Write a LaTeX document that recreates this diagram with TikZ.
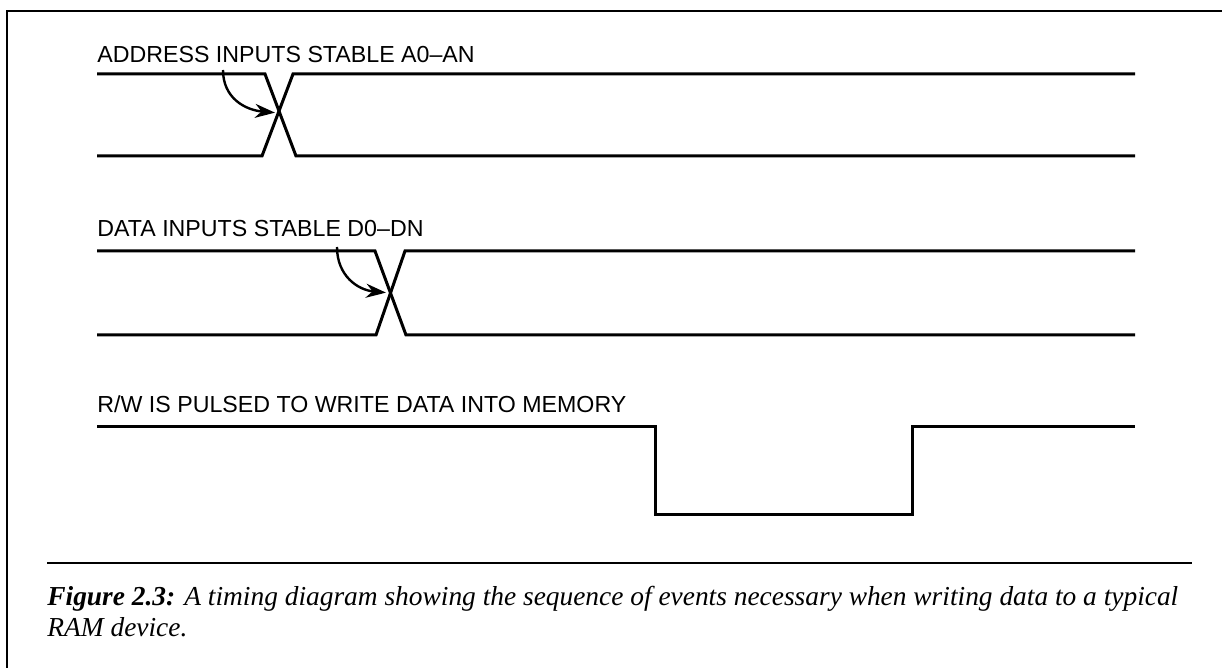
\documentclass[tikz,border=0pt]{standalone}
\usepackage{fontspec}
\setmainfont{Liberation Serif}
\setsansfont{Liberation Sans}
\usetikzlibrary{positioning, arrows.meta}

\tikzset{
  wave/.style={line width=1.5pt, line join=miter},
  siglabel/.style={anchor=base west, inner sep=0pt,
                   font=\sffamily\fontsize{11.6}{13}\selectfont},
  hint/.style={line width=1.2pt, -{Stealth[length=10pt, width=7pt]}, shorten >=2pt},
  caption/.style={anchor=base west, inner sep=0pt,
                  font=\itshape\fontsize{13.7}{15}\selectfont},
}

\begin{document}
\begin{tikzpicture}[x=0.5pt, y=-0.5pt]
  \useasboundingbox (0,0) rectangle (1222,668);
  % frame (top and left edge only)
  \draw[line width=1.3pt] (7,668) -- (7,11) -- (1222,11);

  % address bus
  \node[siglabel] (addr) at (97,63) {ADDRESS INPUTS STABLE A0--AN};
  \draw[wave] (97,74) -- (265,74) -- (296,156) -- (1135,156);
  \draw[wave] (97,156) -- (262,156) -- (293,74) -- (1135,74);
  \coordinate (addrx) at (279,113);
  \coordinate (addrtail) at (223,70);
  \draw[hint] (addrtail) .. controls (223,98) and (245,110) .. (addrx);

  % data bus
  \node[siglabel] (data) at (97,237) {DATA INPUTS STABLE D0--DN};
  \draw[wave] (97,251) -- (375,251) -- (406,335) -- (1135,335);
  \draw[wave] (97,335) -- (376,335) -- (405,251) -- (1135,251);
  \coordinate (datax) at (390,293);
  \coordinate (datatail) at (337,247);
  \draw[hint] (datatail) .. controls (337,276) and (358,290) .. (datax);

  % read/write strobe
  \node[siglabel] (rw) at (97,413) {R/W IS PULSED TO WRITE DATA INTO MEMORY};
  \draw[wave] (97,427) -- (655,427) -- (655,514) -- (912,514) -- (912,427) -- (1135,427);

  % caption
  \coordinate (ruleL) at (47,563);
  \coordinate (ruleR) at (1192,563);
  \draw[line width=1.2pt] (ruleL) -- (ruleR);
  \node[caption] (cap1) at (47,605)
    {\textbf{Figure 2.3:} A timing diagram showing the sequence of events necessary when writing data to a typical};
  \node[caption] (cap2) at (47,636) {RAM device.};
\end{tikzpicture}
\end{document}
